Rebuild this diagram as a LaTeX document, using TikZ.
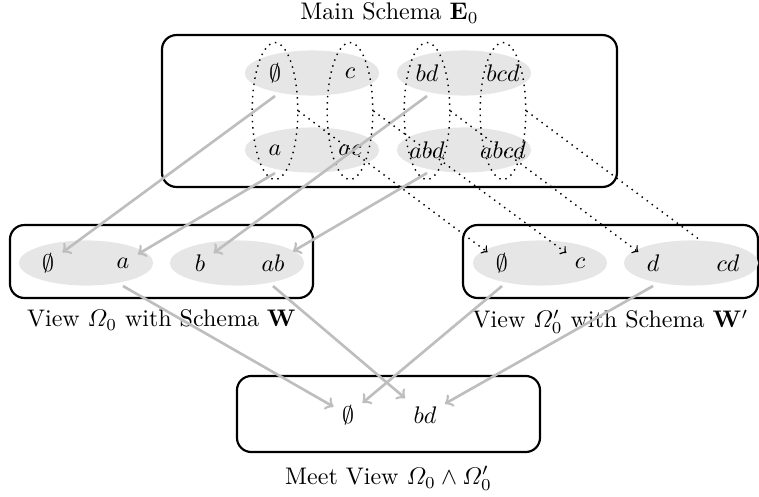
\documentclass[tikz,border=0pt]{standalone}
\usepackage{amsmath}
\usepackage{xcolor}
\usetikzlibrary{shapes.geometric, positioning}
\definecolor{cSet}{RGB}{230,230,230}
\definecolor{cMap}{RGB}{190,190,190}

\begin{document}
\begin{tikzpicture}[x=0.4167pt, y=-0.4167pt, >=to]
\useasboundingbox (0,0) rectangle (759,497);

% ------------------- 定义样式 -------------------
\tikzstyle{viewbox} = [draw, line width=0.9pt, rectangle, rounded corners=6pt, inner sep=0]
\tikzstyle{setfill} = [ellipse, fill=cSet, minimum width=56pt, minimum height=18.8pt, inner sep=0]
\tikzstyle{column} = [ellipse, draw, semithick, dotted, minimum width=19pt, minimum height=57pt, inner sep=0]
\tikzstyle{mapline} = [->, line width=1.1pt, cMap]
\tikzstyle{projline} = [->, semithick, dotted]

% ------------------- 外框与标题 -------------------
\node[viewbox, minimum width=189.6pt, minimum height=63.3pt] (Main) at (389.5, 111) {};
\node[above=1pt of Main] (MainTitle) {Main Schema $\mathbf{E}_0$};

\node[viewbox, minimum width=126.3pt, minimum height=30.4pt] (ViewW) at (161.5, 261.5) {};
\node[below=1pt of ViewW] (ViewWTitle) {View $\varOmega_0$ with Schema $\mathbf{W}$};

\node[viewbox, minimum width=122.9pt, minimum height=30.4pt] (ViewV) at (610.5, 261.5) {};
\node[below=1pt of ViewV] (ViewVTitle) {View $\varOmega'_0$ with Schema $\mathbf{W}'$};

\node[viewbox, minimum width=126.3pt, minimum height=31.7pt] (Meet) at (388.5, 414) {};
\node[below=2pt of Meet] (MeetTitle) {Meet View $\varOmega_0 \wedge \varOmega'_0$};

% ------------------- 灰色集合 -------------------
\node[setfill] (mSet1) at (312, 73) {};
\node[setfill] (mSet2) at (464, 73) {};
\node[setfill] (mSet3) at (312, 150) {};
\node[setfill] (mSet4) at (464, 150) {};
\node[setfill] (wSet1) at (86, 263) {};
\node[setfill] (wSet2) at (237, 263) {};
\node[setfill] (vSet1) at (540, 263) {};
\node[setfill] (vSet2) at (691, 263) {};

% 点线列 (等价类)
\node[column] (col1) at (275, 111) {};
\node[column] (col2) at (350, 111) {};
\node[column] (col3) at (427, 111) {};
\node[column] (col4) at (503, 111) {};

% ------------------- 元素 -------------------
\node (mE) at (275, 73) {$\emptyset$};
\node (mC) at (350, 73) {$c$};
\node (mBD) at (427, 73) {$bd$};
\node (mBCD) at (503, 73) {$bcd$};
\node (mA) at (275, 150) {$a$};
\node (mAC) at (350, 150) {$ac$};
\node (mABD) at (427, 150) {$abd$};
\node (mABCD) at (503, 150) {$abcd$};

\node (wE) at (48, 263) {$\emptyset$};
\node (wA) at (123, 263) {$a$};
\node (wB) at (200, 263) {$b$};
\node (wAB) at (273, 263) {$ab$};

\node (vE) at (502, 263) {$\emptyset$};
\node (vC) at (580, 263) {$c$};
\node (vD) at (653, 263) {$d$};
\node (vCD) at (728, 263) {$cd$};

\node (nE) at (348, 415) {$\emptyset$};
\node (nBD) at (425, 415) {$bd$};

% ------------------- 连线 -------------------
% 投影到 W
\draw[mapline] (mE |- mSet1.south) -- (wE);
\draw[mapline] (mA |- mSet3.south) -- (wA);
\draw[mapline] (mBD |- mSet2.south) -- (wB);
\draw[mapline] (mABD |- mSet4.south) -- (wAB);

% 投影到 W' (点线)
\coordinate (cdEnd) at (700, 240);
\draw[projline] (col1.east) -- (vE);
\draw[projline] (col2.east) -- (vC);
\draw[projline] (col3.east) -- (vD);
\draw[semithick, dotted] (col4.east) -- (cdEnd);

% Meet
\draw[mapline] (wA |- wSet1.south) -- (nE);
\draw[mapline] (wAB |- wSet2.south) -- (nBD);
\draw[mapline] (vE |- vSet1.south) -- (nE);
\draw[mapline] (vD |- vSet2.south) -- (nBD);

\end{tikzpicture}
\end{document}
